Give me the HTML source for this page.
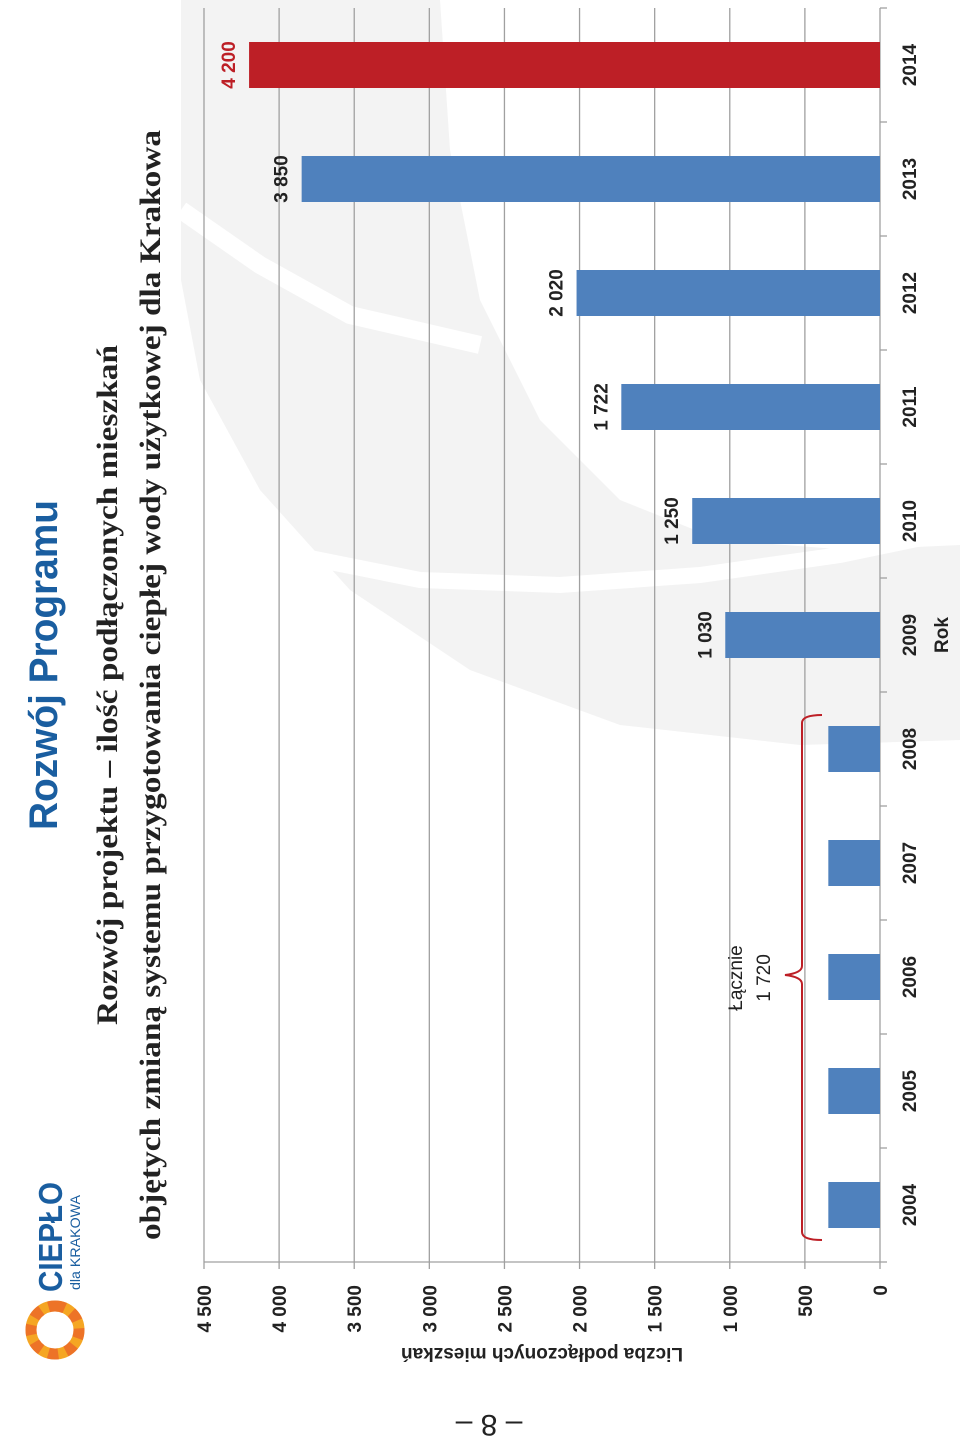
<!DOCTYPE html>
<html><head><meta charset="utf-8"><style>
html,body{margin:0;padding:0;background:#fff;}
svg{display:block;}
text{font-family:"Liberation Sans",sans-serif;}
</style></head><body>
<svg id="chart" width="960" height="1442" viewBox="0 0 960 1442" xmlns="http://www.w3.org/2000/svg">
<g>
  <polygon points="181,0 440,0 450,150 480,300 540,420 620,500 720,540 850,550 960,545 960,740 800,745 620,725 470,670 350,590 260,490 200,380 181,280" fill="#f3f3f3"/>
  <polyline points="181,210 260,265 350,315 480,345" fill="none" stroke="#fff" stroke-width="18"/>
  <polyline points="295,555 420,580 560,585 700,575 840,555 960,530" fill="none" stroke="#fff" stroke-width="16"/>
</g>
<g id="land" transform="translate(0,1442) rotate(-90)">
  <g>
    <circle cx="112" cy="55" r="24" fill="none" stroke="#f5a623" stroke-width="11"/>
    <circle cx="112" cy="55" r="24" fill="none" stroke="#e8522a" stroke-width="11" stroke-dasharray="10 8" opacity="0.6"/>
    <text x="150" y="62" font-size="33" font-weight="bold" fill="#1a5ea0" textLength="110" lengthAdjust="spacingAndGlyphs">CIEPŁO</text>
    <text x="152" y="80" font-size="14" fill="#1a5ea0" textLength="95" lengthAdjust="spacingAndGlyphs">dla KRAKOWA</text>
  </g>
  <text x="777" y="57" text-anchor="middle" font-size="40" font-weight="bold" fill="#1a5ea0" style="font-family:'Liberation Sans Narrow','Liberation Sans',sans-serif" textLength="330" lengthAdjust="spacingAndGlyphs">Rozwój Programu</text>
  <text x="757" y="117" text-anchor="middle" font-size="30" font-weight="bold" fill="#222" style="font-family:'Liberation Serif',serif" textLength="680" lengthAdjust="spacingAndGlyphs">Rozwój projektu – ilość podłączonych mieszkań</text>
  <text x="757" y="160" text-anchor="middle" font-size="30" font-weight="bold" fill="#222" style="font-family:'Liberation Serif',serif" textLength="1110" lengthAdjust="spacingAndGlyphs">objętych zmianą systemu przygotowania ciepłej wody użytkowej dla Krakowa</text>
  <g id="plot"></g>
</g>
<text x="542" y="1348" text-anchor="middle" font-size="19" font-weight="bold" fill="#222" transform="rotate(180,542,1348)">Liczba podłączonych mieszkań</text>
<text x="489" y="1415" text-anchor="middle" font-size="30" fill="#222" transform="rotate(180,489,1415)">– 8 –</text>
</svg>
<script>
const categories = ["2004","2005","2006","2007","2008","2009","2010","2011","2012","2013","2014"];
const values = [344,344,344,344,344,1030,1250,1722,2020,3850,4200];
const valueLabels = ["","","","","","1 030","1 250","1 722","2 020","3 850","4 200"];
const highlight = [false,false,false,false,false,false,false,false,false,false,true];
const ticks = [0,500,1000,1500,2000,2500,3000,3500,4000,4500];
const tickLabels = ["0","500","1 000","1 500","2 000","2 500","3 000","3 500","4 000","4 500"];

const NS = "http://www.w3.org/2000/svg";
const plot = document.getElementById("plot");
const X0 = 180, X1 = 1434, Y0 = 880, Y1 = 204, VMAX = 4500;
const band = (X1 - X0) / categories.length;
const yScale = v => Y0 - (v / VMAX) * (Y0 - Y1);
const xBand = i => X0 + i * band;
function mk(tag, attrs){ const e = document.createElementNS(NS, tag); for (const k in attrs) e.setAttribute(k, attrs[k]); plot.appendChild(e); return e; }

ticks.forEach((t, i) => {
  const y = yScale(t);
  if (t > 0) {
    const g = mk("line", {x1: X0, x2: X1, y1: y, y2: y, stroke: "#a0a0a0", "stroke-width": 1.3});
    
    
  }
  const tk = mk("line", {x1: X0 - 7, x2: X0, y1: y, y2: y, stroke: "#a0a0a0", "stroke-width": 1.3});
  
  
  const tl = mk("text", {x: X0 - 23, y: y + 7, "text-anchor": "end", "font-size": 19, "font-weight": "bold", fill: "#222"});
  tl.textContent = tickLabels[i];
  
  
});
const ya = mk("line", {x1: X0, x2: X0, y1: Y1, y2: Y0, stroke: "#a0a0a0", "stroke-width": 1.3});


const xa = mk("line", {x1: X0, x2: X1, y1: Y0, y2: Y0, stroke: "#a0a0a0", "stroke-width": 1.3});



for (let i = 0; i <= categories.length; i++) {
  const ct = mk("line", {x1: xBand(i), x2: xBand(i), y1: Y0, y2: Y0 + 7, stroke: "#a0a0a0", "stroke-width": 1.3});
  
  
}

const barW = 46;
categories.forEach((c, i) => {
  const cx = xBand(i) + band / 2;
  const top = yScale(values[i]);
  const b = mk("rect", {x: cx - barW / 2, y: top, width: barW, height: Y0 - top, fill: highlight[i] ? "#bd1f26" : "#4f81bd"});
  
  
  if (valueLabels[i]) {
    const vl = mk("text", {x: cx, y: top - 14, "text-anchor": "middle", "font-size": 19, "font-weight": "bold", fill: highlight[i] ? "#bd1f26" : "#222"});
    vl.textContent = valueLabels[i];
    
    
  }
  const cl = mk("text", {x: cx, y: 916, "text-anchor": "middle", "font-size": 19, "font-weight": "bold", fill: "#222"});
  cl.textContent = c;
  
  
});

const rok = mk("text", {x: 807, y: 948, "text-anchor": "middle", "font-size": 19, "font-weight": "bold", fill: "#222"});
rok.textContent = "Rok";



const br = mk("path", {d: "M202 822 Q202 802 210 802 L458 802 Q465 802 467 785 Q469 802 476 802 L719 802 Q727 802 727 822", fill: "none", stroke: "#bd1f26", "stroke-width": 2});


const t1 = mk("text", {x: 464, y: 742, "text-anchor": "middle", "font-size": 19, fill: "#222"});
t1.textContent = "Łącznie";


const t2 = mk("text", {x: 464, y: 770, "text-anchor": "middle", "font-size": 19, fill: "#222"});
t2.textContent = "1 720";


</script>
</body></html>
